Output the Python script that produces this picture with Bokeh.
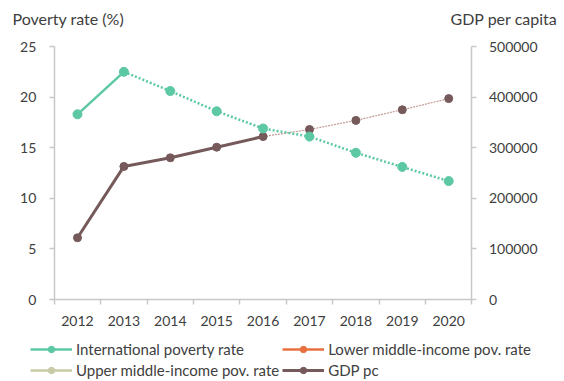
from bokeh.plotting import figure
from bokeh.models import (Range1d, LinearAxis, FixedTicker, Legend, LegendItem,
                          Label, ColumnDataSource, PrintfTickFormatter)
from bokeh.embed import file_html
from bokeh.resources import INLINE

# ---- data ----
years = ["2012", "2013", "2014", "2015", "2016", "2017", "2018", "2019", "2020"]
intl_poverty = [18.3, 22.5, 20.6, 18.6, 16.9, 16.1, 14.5, 13.1, 11.7]
gdp_pc = [122000, 263000, 280000, 301000, 322000, 336000, 354000, 375000, 397000]
intl_actual_years = ["2012", "2013"]                          # solid part
gdp_actual_years = ["2012", "2013", "2014", "2015", "2016"]    # solid part
# no values are shown for these two series (legend entries only)
lower_mid_poverty = [None, None, None, None, None, None, None, None, None]
upper_mid_poverty = [None, None, None, None, None, None, None, None, None]
left_ticks = [0, 5, 10, 15, 20, 25]
right_ticks = [0, 100000, 200000, 300000, 400000, 500000]

idx = list(range(len(years)))
pos = {y: i for i, y in enumerate(years)}
n = len(years)

# ---- layout geometry (pixels) ----
W, H = 564, 381
PX_X0, PX_STEP = 77.0, 46.4        # pixel of first category, category spacing
PX_Y0, PX_YTOP = 299.0, 46.0       # pixel of value 0 and of the top tick
LMAX, RMAX = left_ticks[-1], right_ticks[-1]
ly_per_px = LMAX / (PX_Y0 - PX_YTOP)
ry_per_px = RMAX / (PX_Y0 - PX_YTOP)

x_lo = -PX_X0 / PX_STEP
x_hi = (W - PX_X0) / PX_STEP
yl_lo = -(H - PX_Y0) * ly_per_px
yl_hi = PX_Y0 * ly_per_px
yr_lo = -(H - PX_Y0) * ry_per_px
yr_hi = PX_Y0 * ry_per_px

TEAL = "#5DC8A4"
BROWN = "#76595A"
BROWN_LIGHT = "#C49C94"
ORANGE = "#E8703F"
KHAKI = "#C8CBA6"
AXIS = "#C8C8C8"
TXT = "#404040"
FONT = "Lato"

p = figure(width=W, height=H, x_range=Range1d(x_lo, x_hi),
           y_range=Range1d(yl_lo, yl_hi), output_backend="svg",
           toolbar_location=None, x_axis_location=None, y_axis_location=None,
           min_border=0)
p.outline_line_color = None
p.xgrid.visible = False
p.ygrid.visible = False
p.extra_y_ranges = {"gdp": Range1d(yr_lo, yr_hi)}

# x axis: labels at centers, tick marks at category boundaries
xa = LinearAxis(fixed_location=0, bounds=(-0.5, n - 0.5),
                ticker=FixedTicker(ticks=idx, minor_ticks=[i - 0.5 for i in range(n + 1)]))
xa.major_label_overrides = {i: y for i, y in enumerate(years)}
xa.major_tick_out = 0
xa.major_tick_in = 0
xa.minor_tick_in = 0
xa.minor_tick_out = 5
xa.minor_tick_line_color = AXIS
xa.axis_line_color = AXIS
xa.axis_line_width = 1.5
xa.minor_tick_line_width = 1.5
xa.major_label_standoff = 11
xa.major_label_text_font = FONT
xa.major_label_text_font_size = "14px"
xa.major_label_text_color = TXT
p.add_layout(xa, "below")

ya = LinearAxis(fixed_location=-0.5, bounds=(0, LMAX), ticker=FixedTicker(ticks=left_ticks))
ya.minor_tick_line_color = None
ya.major_tick_in = 0
ya.major_tick_out = 5
ya.major_tick_line_color = AXIS
ya.axis_line_color = AXIS
ya.axis_line_width = 1.5
ya.major_tick_line_width = 1.5
ya.major_label_standoff = 13
ya.major_label_text_font = FONT
ya.major_label_text_font_size = "14px"
ya.major_label_text_color = TXT
p.add_layout(ya, "left")

ra = LinearAxis(y_range_name="gdp", fixed_location=n - 0.5, bounds=(0, RMAX),
                ticker=FixedTicker(ticks=right_ticks),
                formatter=PrintfTickFormatter(format="%d"))
ra.minor_tick_line_color = None
ra.major_tick_in = 0
ra.major_tick_out = 5
ra.major_tick_line_color = AXIS
ra.axis_line_color = AXIS
ra.axis_line_width = 1.5
ra.major_tick_line_width = 1.5
ra.major_label_standoff = 12
ra.major_label_text_font = FONT
ra.major_label_text_font_size = "14px"
ra.major_label_text_color = TXT
p.add_layout(ra, "right")

# ---- GDP pc ----
k = len(gdp_actual_years)
g_fc = p.line(idx[k - 1:], gdp_pc[k - 1:], y_range_name="gdp", color=BROWN_LIGHT,
              line_width=1.2, line_dash="2 1")
g_line = p.line([pos[y] for y in gdp_actual_years], gdp_pc[:k], y_range_name="gdp",
                color=BROWN, line_width=3)
g_pts = p.scatter(idx, gdp_pc, y_range_name="gdp", size=8, color=BROWN)

# ---- International poverty ----
m = len(intl_actual_years)
i_fc = p.line(idx[m - 1:], intl_poverty[m - 1:], color=TEAL, line_width=2.5, line_dash="2 2")
i_line = p.line([pos[y] for y in intl_actual_years], intl_poverty[:m], color=TEAL, line_width=2.5)
i_pts = p.scatter(idx, intl_poverty, size=9, color=TEAL)

# ---- series without values (legend only) ----
lm_src = ColumnDataSource(dict(x=idx, y=[float("nan") if v is None else v for v in lower_mid_poverty]))
um_src = ColumnDataSource(dict(x=idx, y=[float("nan") if v is None else v for v in upper_mid_poverty]))
lm_line = p.line("x", "y", source=lm_src, color=ORANGE, line_width=2.5)
lm_pts = p.scatter("x", "y", source=lm_src, size=6, color=ORANGE)
um_line = p.line("x", "y", source=um_src, color=KHAKI, line_width=2.5)
um_pts = p.scatter("x", "y", source=um_src, size=6, color=KHAKI)

legend = Legend(items=[
    LegendItem(label="International poverty rate", renderers=[i_line, i_pts]),
    LegendItem(label="Lower middle-income pov. rate", renderers=[lm_line, lm_pts]),
    LegendItem(label="Upper middle-income pov. rate", renderers=[um_line, um_pts]),
    LegendItem(label="GDP pc", renderers=[g_line, g_pts]),
], orientation="horizontal", ncols=2, location=(30, 2))
legend.padding = 0
legend.margin = 0
legend.spacing = 3
legend.glyph_width = 42
legend.glyph_height = 16
legend.label_standoff = 4
legend.label_text_font = FONT
legend.label_text_font_size = "15px"
legend.label_text_color = TXT
legend.border_line_color = None
legend.background_fill_alpha = 0
p.add_layout(legend, "center")

# ---- axis titles ----
p.add_layout(Label(x=12, y=H - 18, x_units="screen", y_units="screen",
                   text="Poverty rate (%)", text_font=FONT, text_font_size="16px",
                   text_color=TXT, text_baseline="middle", text_align="left"))
p.add_layout(Label(x=557, y=H - 18, x_units="screen", y_units="screen",
                   text="GDP per capita", text_font=FONT, text_font_size="16px",
                   text_color=TXT, text_baseline="middle", text_align="right"))

open("out.html", "w").write(file_html(p, INLINE))
